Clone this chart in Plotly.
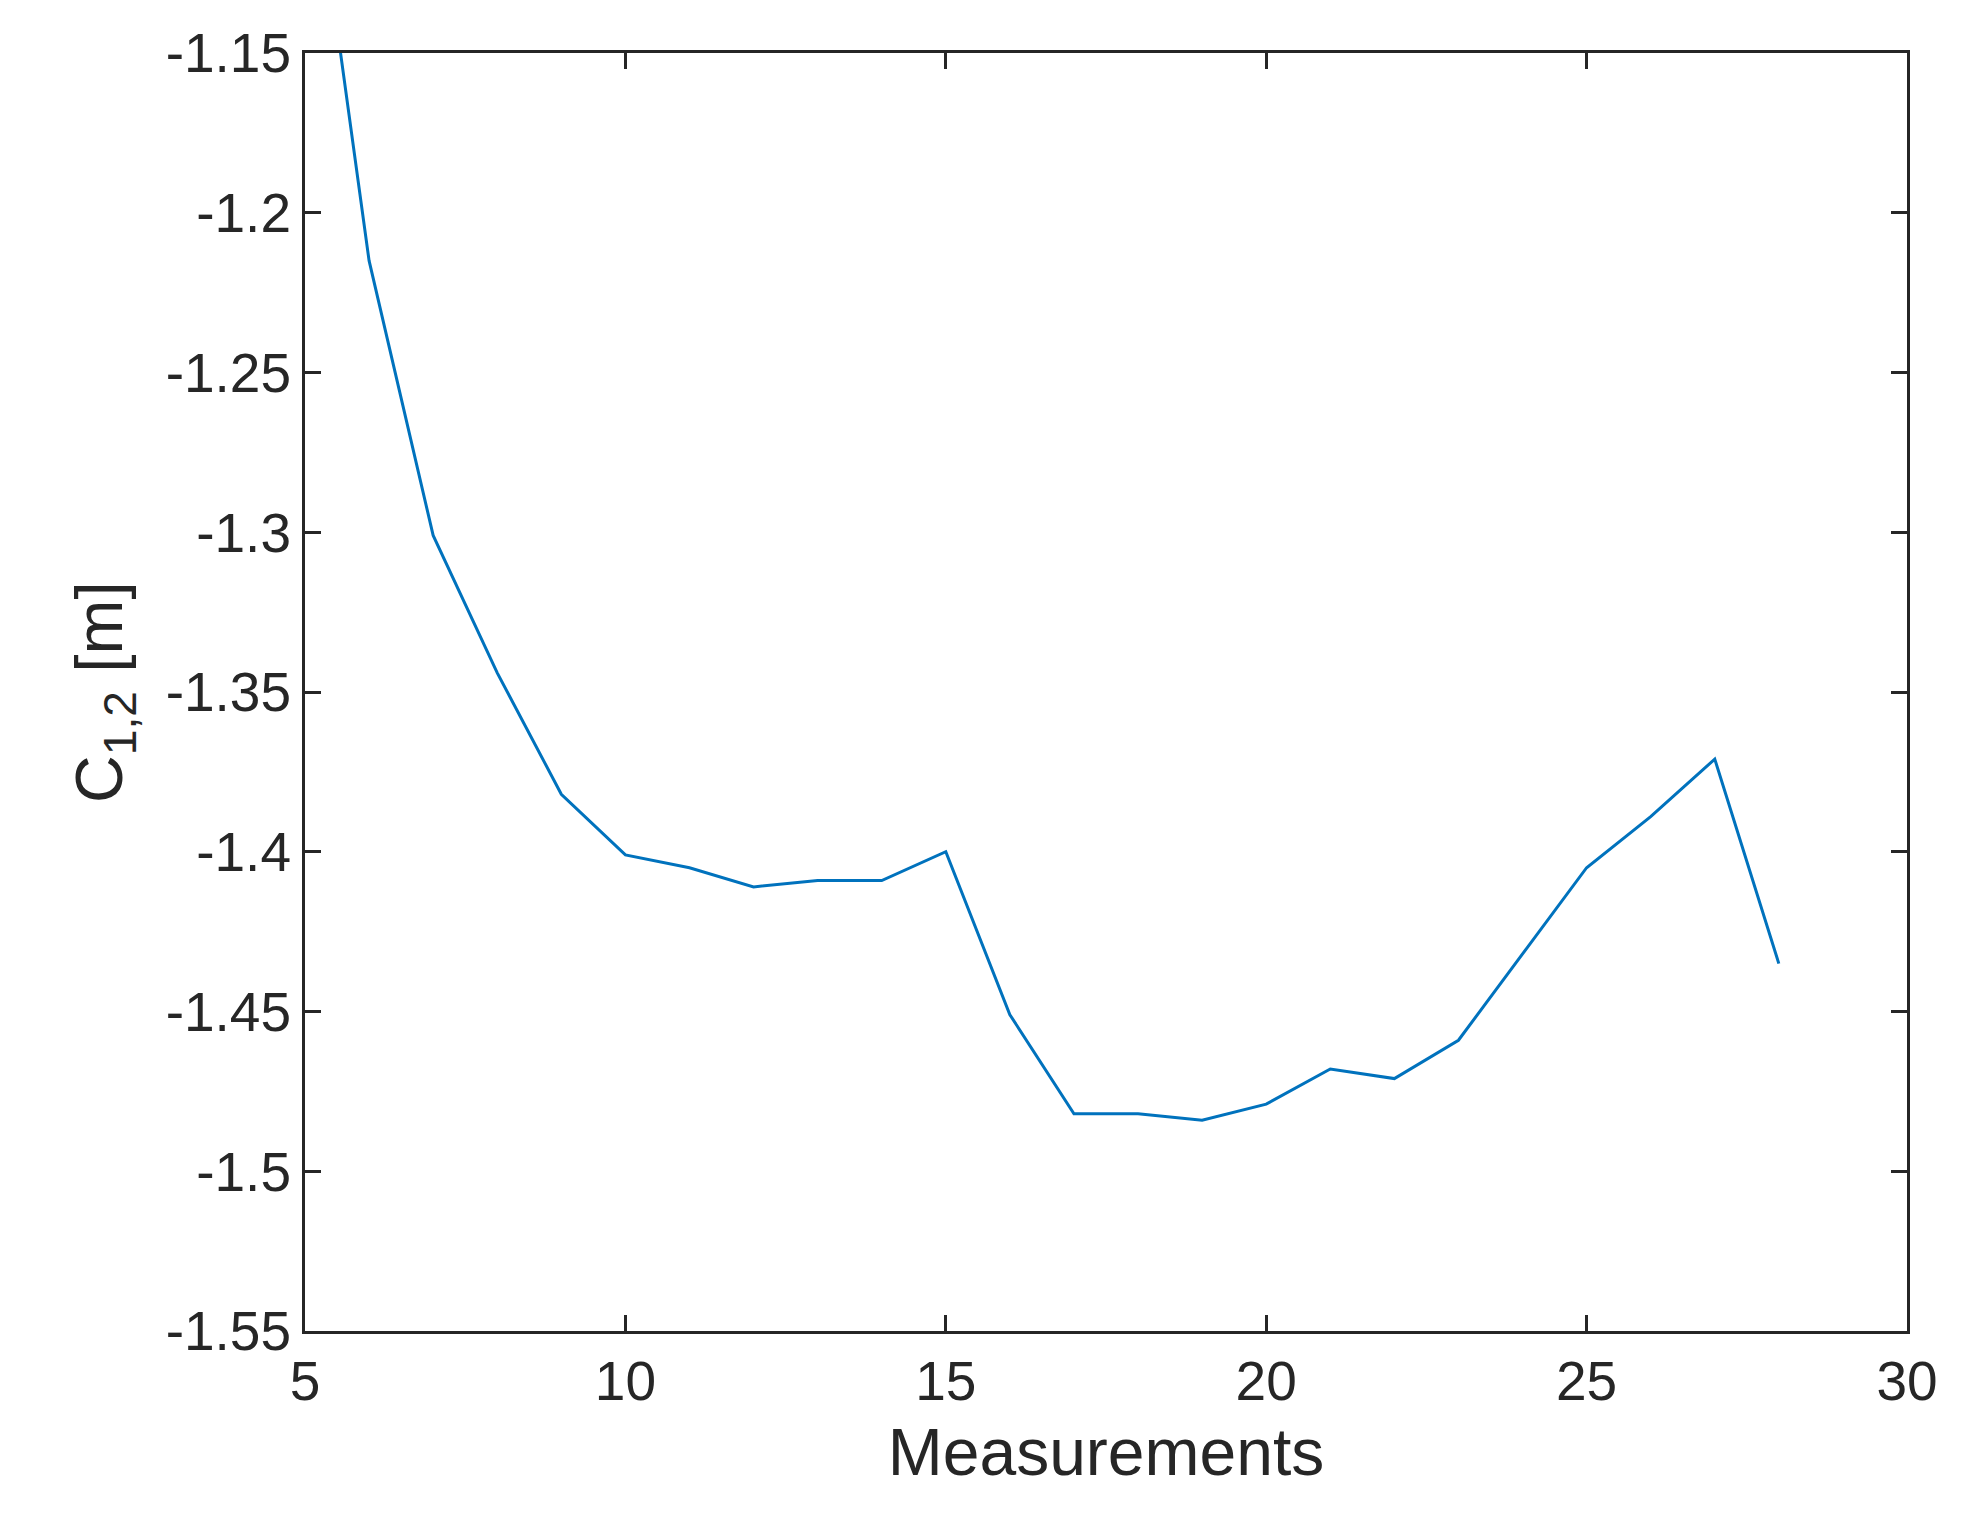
import plotly.graph_objects as go

x_vals = [5, 6, 7, 8, 9, 10, 11, 12, 13, 14, 15, 16, 17, 18, 19, 20, 21, 22, 23, 24, 25, 26, 27, 28]
c12 = [-1.069, -1.215, -1.301, -1.344, -1.382, -1.401, -1.405, -1.411, -1.409, -1.409, -1.400,
       -1.451, -1.482, -1.482, -1.484, -1.479, -1.468, -1.471, -1.459, -1.432, -1.405, -1.389,
       -1.371, -1.435]
x_ticks = [5, 10, 15, 20, 25, 30]
y_ticks = [-1.15, -1.2, -1.25, -1.3, -1.35, -1.4, -1.45, -1.5, -1.55]

fig = go.Figure(go.Scatter(x=x_vals, y=c12, mode="lines", line=dict(color="#0072BD", width=3)))
axis_common = dict(showline=True, linecolor="#262626", linewidth=3, mirror="ticks", ticks="inside",
                   ticklen=16, tickwidth=3, tickcolor="#262626", showgrid=False, zeroline=False,
                   tickfont=dict(family="Liberation Sans, Arial", size=55, color="#262626"))
fig.update_xaxes(range=[5, 30], tickvals=x_ticks, ticktext=[str(t) for t in x_ticks],
                 title=dict(text="Measurements", font=dict(family="Liberation Sans, Arial", size=66, color="#262626"), standoff=18),
                 **axis_common)
fig.update_yaxes(range=[-1.55, -1.15], tickvals=y_ticks, ticktext=[f"{t:g}" for t in y_ticks],
                 title=dict(text="C<sub>1,2</sub> [m]", font=dict(family="Liberation Sans, Arial", size=66, color="#262626"), standoff=22),
                 **axis_common)
fig.update_layout(width=1963, height=1516, plot_bgcolor="white", paper_bgcolor="white",
                  margin=dict(l=297, r=64, t=45, b=193), showlegend=False)
fig.write_html("out.html")
